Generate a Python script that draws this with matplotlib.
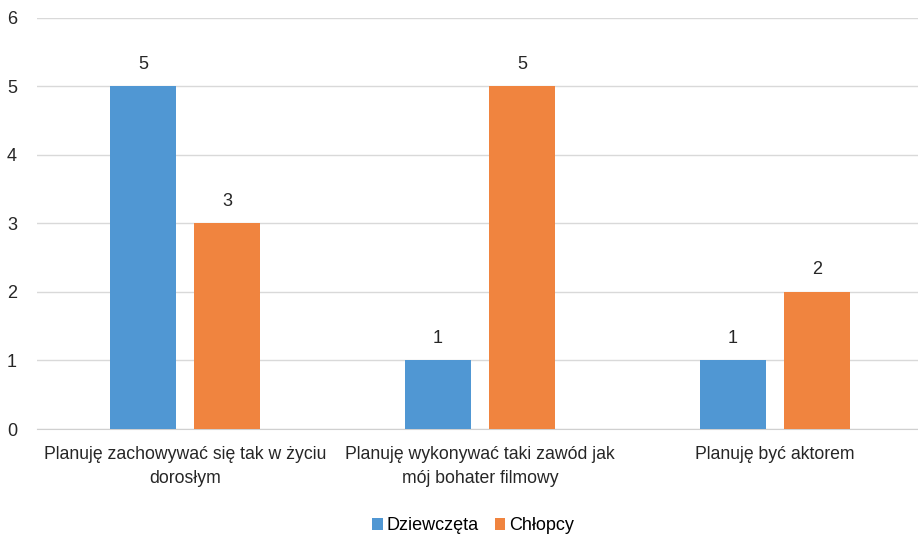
import matplotlib
matplotlib.use("Agg")
import matplotlib.pyplot as plt
import numpy as np

categories = ["Planuję zachowywać się tak w życiu\ndorosłym",
              "Planuję wykonywać taki zawód jak\nmój bohater filmowy",
              "Planuję być aktorem"]
dziewczeta = [5, 1, 1]
chlopcy = [3, 5, 2]
series_names = ["Dziewczęta", "Chłopcy"]

plt.rcParams['font.family'] = ['Liberation Sans Narrow', 'Liberation Sans', 'DejaVu Sans']

fig = plt.figure(figsize=(9.18, 5.41), dpi=100)
ax = fig.add_axes([0.0408, 0.207, 0.964, 0.760])

x = np.arange(len(categories))
w = 0.224
off = 0.1425
b1 = ax.bar(x - off, dziewczeta, w, color="#5097d3", label=series_names[0], zorder=3)
b2 = ax.bar(x + off, chlopcy, w, color="#f0843f", label=series_names[1], zorder=3)

for bars in (b1, b2):
    for r in bars:
        ax.text(r.get_x() + r.get_width() / 2, r.get_height() + 0.2, str(int(r.get_height())),
                ha="center", va="bottom", fontsize=13, color="#262626")

ax.set_xlim(-0.5, 2.5)
ax.set_ylim(0, 6)
ax.set_yticks(range(7))
ax.yaxis.grid(True, color="#d9d9d9", linewidth=1)
ax.set_axisbelow(True)
for s in ["top", "right", "left"]:
    ax.spines[s].set_visible(False)
ax.spines["bottom"].set_color("#d0d0d0")
ax.tick_params(axis="both", length=0, labelsize=13, labelcolor="#262626")
ax.tick_params(axis="x", labelsize=12.7)
ax.tick_params(axis="y", pad=22)
ax.tick_params(axis="x", pad=12)
ax.set_xticks(x)
ax.set_xticklabels(categories, linespacing=1.6)
for lbl in ax.get_yticklabels():
    lbl.set_horizontalalignment("left")

fig.legend(loc="center", bbox_to_anchor=(0.515, 0.028), ncol=2, frameon=False,
           fontsize=13, handlelength=0.6, handleheight=0.6, columnspacing=0.9,
           handletextpad=0.2)

fig.savefig("out.png", dpi=100)
